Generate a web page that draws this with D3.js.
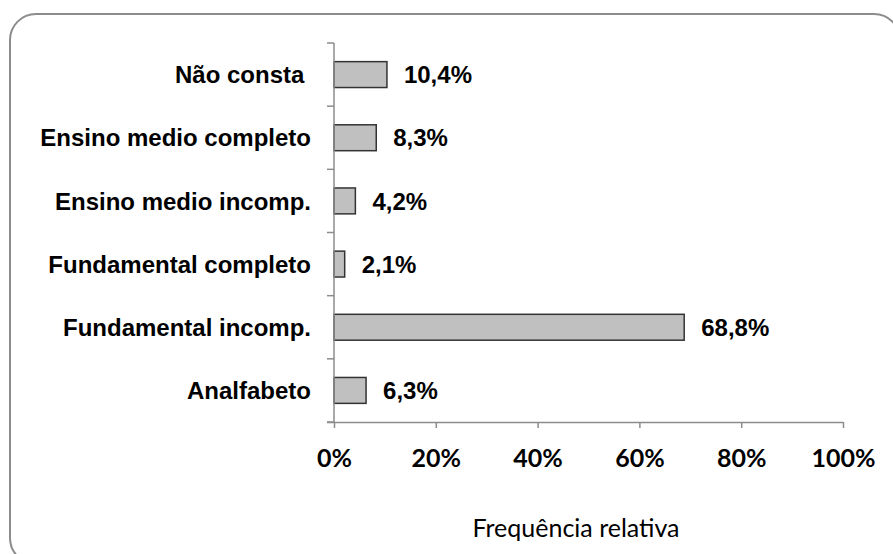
<!DOCTYPE html>
<html><head><meta charset="utf-8">
<script src="https://cdn.jsdelivr.net/npm/d3@7"></script>
<style>
html,body{margin:0;padding:0;background:#fff;}
svg{display:block;}
</style></head>
<body>
<script>
const categories = ["Não consta ", "Ensino medio completo", "Ensino medio incomp.", "Fundamental completo", "Fundamental incomp.", "Analfabeto"];
const values = [10.4, 8.3, 4.2, 2.1, 68.8, 6.3];
const valueLabels = ["10,4%", "8,3%", "4,2%", "2,1%", "68,8%", "6,3%"];
const xTicks = [0, 20, 40, 60, 80, 100];
const xTitle = "Frequência relativa";

(function () {
const W = 893, H = 554;
const svg = d3.select("body").append("svg").attr("width", W).attr("height", H);

// frame
svg.append("rect").attr("x", 10).attr("y", 14).attr("width", 890).attr("height", 550)
  .attr("rx", 26).attr("ry", 26).attr("fill", "#fff").attr("stroke", "#8c8c8c").attr("stroke-width", 2);

const pl = 334, pr = 843, pt = 43, pb = 422;
const x = d3.scaleLinear().domain([0, 100]).range([pl, pr]);
const y = d3.scaleBand().domain(categories).range([pt, pb]).paddingInner(0.59).paddingOuter(0.295);

const axisColor = "#8c8c8c";

// bars
svg.append("g").selectAll("rect").data(values).join("rect")
  .attr("x", x(0))
  .attr("y", (d, i) => y(categories[i]))
  .attr("width", d => x(d) - x(0))
  .attr("height", y.bandwidth())
  .attr("fill", "#c0c0c0")
  .attr("stroke", "#333")
  .attr("stroke-width", 1.5);

// value labels
svg.append("g").selectAll("text").data(values).join("text")
  .attr("x", d => x(d) + 17)
  .attr("y", (d, i) => y(categories[i]) + y.bandwidth() / 2)
  .attr("dy", "0.36em")
  .attr("font-family", "Liberation Sans, Arial, sans-serif")
  .attr("font-weight", "bold")
  .attr("font-size", 24)
  .attr("fill", "#000")
  .text((d, i) => valueLabels[i]);

// vertical axis with ticks at band boundaries
const gy = svg.append("g");
gy.append("line").attr("x1", pl).attr("x2", pl).attr("y1", pt).attr("y2", pb)
  .attr("stroke", axisColor).attr("stroke-width", 1.5);
const boundaries = d3.range(categories.length + 1).map(i => pt + i * y.step());
gy.selectAll("line.t").data(boundaries).join("line").attr("class", "t")
  .attr("x1", pl - 7).attr("x2", pl).attr("y1", d => d).attr("y2", d => d)
  .attr("stroke", axisColor).attr("stroke-width", 1.5);

// category labels
svg.append("g").selectAll("text").data(categories).join("text")
  .attr("x", 311)
  .attr("y", d => y(d) + y.bandwidth() / 2)
  .attr("dy", "0.36em")
  .attr("text-anchor", "end")
  .style("white-space", "pre")
  .attr("font-family", "Liberation Sans, Arial, sans-serif")
  .attr("font-weight", "bold")
  .attr("font-size", 24)
  .attr("fill", "#000")
  .text(d => d);

// horizontal axis
const gx = svg.append("g").attr("transform", `translate(0,${pb})`)
  .call(d3.axisBottom(x).tickValues(xTicks).tickSize(6).tickPadding(21).tickFormat(d => d + "%"));
gx.select(".domain").attr("stroke", axisColor).attr("stroke-width", 1.5).attr("d", `M${pl - 7},0.5H${pr}`);
gx.selectAll(".tick line").attr("stroke", axisColor).attr("stroke-width", 1.5);
gx.selectAll(".tick text")
  .attr("font-family", "Lato, sans-serif")
  .attr("font-weight", "bold")
  .attr("font-size", 25)
  .attr("fill", "#000");

// x title
svg.append("text")
  .attr("x", 576).attr("y", 537)
  .attr("text-anchor", "middle")
  .attr("font-family", "Lato, sans-serif")
  .attr("font-size", 25)
  .attr("fill", "#000")
  .text(xTitle);
})();
</script>
</body></html>
